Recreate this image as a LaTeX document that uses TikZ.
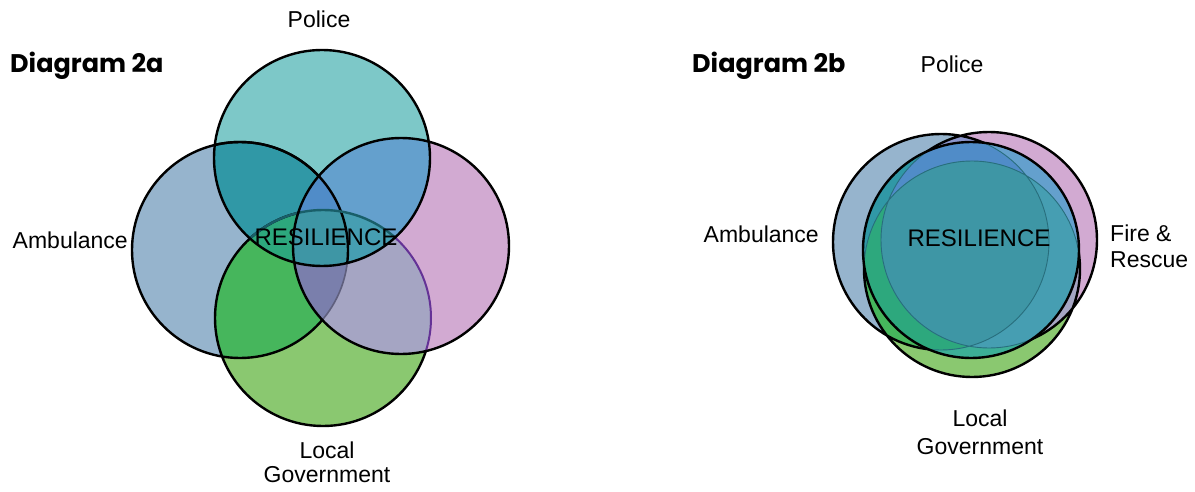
\documentclass[tikz,border=0pt]{standalone}
\usepackage{fontspec}
\setmainfont{Liberation Sans}
\newfontfamily\headfont{Poppins}
\usetikzlibrary{positioning}

% colour of each overlap: A=ambulance, F=fire, G=local gov, P=police
\definecolor{cA}{RGB}{150,180,205}
\definecolor{cF}{RGB}{210,170,210}
\definecolor{cG}{RGB}{138,200,112}
\definecolor{cP}{RGB}{125,200,200}
\definecolor{cAF}{RGB}{140,150,205}
\definecolor{cAG}{RGB}{70,182,92}
\definecolor{cAP}{RGB}{48,152,166}
\definecolor{cFG}{RGB}{165,165,195}
\definecolor{cFP}{RGB}{100,160,205}
\definecolor{cGP}{RGB}{60,175,150}
\definecolor{cAFG}{RGB}{122,127,172}
\definecolor{cAFP}{RGB}{80,140,200}
\definecolor{cAGP}{RGB}{45,168,125}
\definecolor{cFGP}{RGB}{70,158,178}
\definecolor{cAFGP}{RGB}{62,150,165}
\definecolor{fadeA}{RGB}{95,95,125}
\definecolor{fadeG}{RGB}{100,50,150}
\definecolor{shadeG}{RGB}{25,95,105}
\definecolor{thinline}{RGB}{40,110,125}

\newcommand{\rr}{108pt}
\newcommand{\cut}[1]{\clip (#1) circle (\rr);}
\newcommand{\zone}[3]{\begin{scope}#1\fill[#2] (#3) circle (\rr);\end{scope}}

\begin{document}
\begin{tikzpicture}[
  x=1pt, y=-1pt,
  rim/.style={draw=black, line width=2.4pt},
  hairline/.style={draw=thinline, line width=0.9pt},
  tag/.style={font=\fontsize{23}{24}\selectfont, inner sep=0pt},
  core/.style={font=\fontsize{24}{28}\selectfont, inner sep=0pt, anchor=base},
  heading/.style={font=\headfont\bfseries\fontsize{25.5}{30}\selectfont,
    inner sep=0pt, anchor=base west}
]
\useasboundingbox (0,0) rectangle (1195,492);

% Circle centres
\coordinate (amb2a) at (240,250);
\coordinate (gov2a) at (323,318);
\coordinate (fire2a) at (401,246);
\coordinate (police2a) at (322,158);
\coordinate (amb2b) at (941,242);
\coordinate (fire2b) at (989,240);
\coordinate (gov2b) at (972,269);
\coordinate (police2b) at (971,250);

% Fills, one colour per overlap
\foreach \d in {2a,2b}{
  \fill[cA] (amb\d) circle (\rr);
  \fill[cF] (fire\d) circle (\rr);
  \fill[cG] (gov\d) circle (\rr);
  \fill[cP] (police\d) circle (\rr);
  \zone{\cut{amb\d}}{cAF}{fire\d}
  \zone{\cut{amb\d}}{cAG}{gov\d}
  \zone{\cut{amb\d}}{cAP}{police\d}
  \zone{\cut{fire\d}}{cFG}{gov\d}
  \zone{\cut{fire\d}}{cFP}{police\d}
  \zone{\cut{gov\d}}{cGP}{police\d}
  \zone{\cut{amb\d}\cut{fire\d}}{cAFG}{gov\d}
  \zone{\cut{amb\d}\cut{fire\d}}{cAFP}{police\d}
  \zone{\cut{amb\d}\cut{gov\d}}{cAGP}{police\d}
  \zone{\cut{fire\d}\cut{gov\d}}{cFGP}{police\d}
  \zone{\cut{amb\d}\cut{fire\d}\cut{gov\d}}{cAFGP}{police\d}
}

% Outlines of diagram 2a
\begin{scope}[even odd rule]
  \clip (0,0) rectangle (600,492) (fire2a) circle (\rr);
  \draw[rim] (amb2a) circle (\rr) (gov2a) circle (\rr);
\end{scope}
\begin{scope}
  \cut{police2a}
  \draw[rim] (amb2a) circle (\rr);
  \draw[rim, draw=shadeG] (gov2a) circle (\rr);
\end{scope}
\begin{scope}[even odd rule]
  \cut{fire2a}
  \clip (fire2a) circle (\rr) (police2a) circle (\rr);
  \draw[rim, draw=fadeA, line width=1.6pt] (amb2a) circle (\rr);
  \draw[rim, draw=fadeG, line width=2pt] (gov2a) circle (\rr);
\end{scope}
\draw[rim] (fire2a) circle (\rr) (police2a) circle (\rr);

% Outlines of diagram 2b
\begin{scope}[even odd rule]
  \clip (600,0) rectangle (1195,492) (police2b) circle (\rr);
  \draw[rim] (amb2b) circle (\rr) (fire2b) circle (\rr) (gov2b) circle (\rr);
\end{scope}
\begin{scope}
  \cut{police2b}
  \draw[hairline] (amb2b) circle (\rr) (fire2b) circle (\rr) (gov2b) circle (\rr);
\end{scope}
\draw[rim] (police2b) circle (\rr);

% Diagram 2a texts
\node[heading] (title2a) at (10,73) {Diagram 2a};
\node[core] (res2a) at (326,245) {RESILIENCE};
\node[tag, anchor=base] (lpolice2a) at (319,28) {Police};
\node[tag, anchor=base east] (lamb2a) at (128,248) {Ambulance};
\node[tag, anchor=north, align=center] (lgov2a) at (327,442) {Local\\Government};

% Diagram 2b texts
\node[heading] (title2b) at (692,73) {Diagram 2b};
\node[core] (res2b) at (979,247) {RESILIENCE};
\node[tag, anchor=base] (lpolice2b) at (952,73) {Police};
\node[tag, anchor=base east] (lamb2b) at (819,242) {Ambulance};
\node[tag, anchor=north west, align=left, font=\fontsize{23}{26}\selectfont]
  (lfire2b) at (1110,225) {Fire \&\\Rescue};
\node[tag, anchor=north, align=center, font=\fontsize{23}{28}\selectfont]
  (lgov2b) at (980,410) {Local\\Government};

\end{tikzpicture}
\end{document}
